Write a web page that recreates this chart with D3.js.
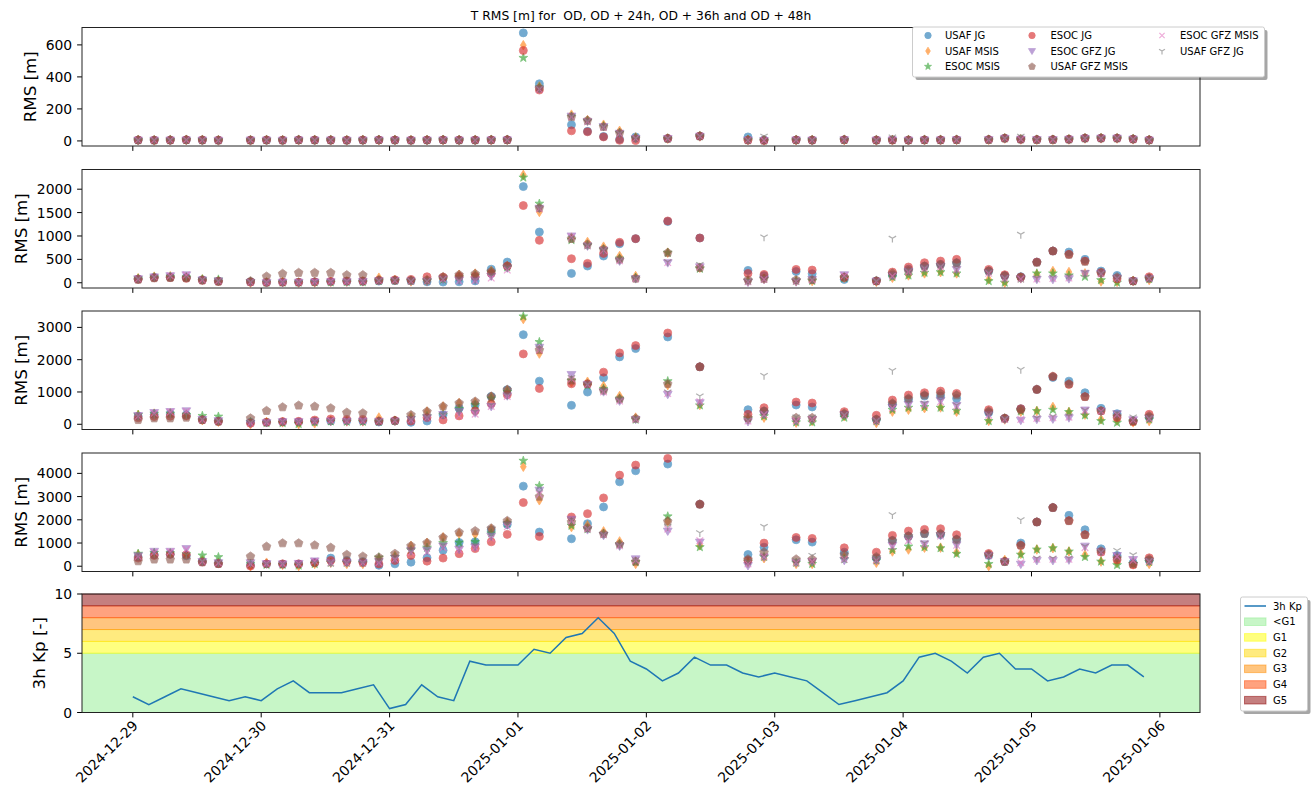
<!DOCTYPE html>
<html>
<head>
<meta charset="utf-8">
<script src="https://cdn.jsdelivr.net/npm/d3@7"></script>
<style>
  body { margin: 0; background: #fff; }
  svg { display: block; font-family: "DejaVu Sans", sans-serif; }
  .keep-space { white-space: pre; }
</style>
</head>
<body>
<svg id="chart" width="1314" height="802"></svg>
<script>
// ---------- sampling times ----------
const rmsTimes = [
  "2024-12-29T01:00","2024-12-29T04:00","2024-12-29T07:00","2024-12-29T10:00","2024-12-29T13:00","2024-12-29T16:00","2024-12-29T22:00",
  "2024-12-30T01:00","2024-12-30T04:00","2024-12-30T07:00","2024-12-30T10:00","2024-12-30T13:00","2024-12-30T16:00","2024-12-30T19:00","2024-12-30T22:00",
  "2024-12-31T01:00","2024-12-31T04:00","2024-12-31T07:00","2024-12-31T10:00","2024-12-31T13:00","2024-12-31T16:00","2024-12-31T19:00","2024-12-31T22:00",
  "2025-01-01T01:00","2025-01-01T04:00","2025-01-01T10:00","2025-01-01T13:00","2025-01-01T16:00","2025-01-01T19:00","2025-01-01T22:00",
  "2025-01-02T04:00","2025-01-02T10:00","2025-01-02T19:00","2025-01-02T22:00",
  "2025-01-03T04:00","2025-01-03T07:00","2025-01-03T13:00","2025-01-03T19:00","2025-01-03T22:00",
  "2025-01-04T01:00","2025-01-04T04:00","2025-01-04T07:00","2025-01-04T10:00","2025-01-04T16:00","2025-01-04T19:00","2025-01-04T22:00",
  "2025-01-05T01:00","2025-01-05T04:00","2025-01-05T07:00","2025-01-05T10:00","2025-01-05T13:00","2025-01-05T16:00","2025-01-05T19:00","2025-01-05T22:00"
];

const kpTimes = [
  "2024-12-29T00:00","2024-12-29T03:00","2024-12-29T06:00","2024-12-29T09:00","2024-12-29T12:00","2024-12-29T15:00","2024-12-29T18:00","2024-12-29T21:00",
  "2024-12-30T00:00","2024-12-30T03:00","2024-12-30T06:00","2024-12-30T09:00","2024-12-30T12:00","2024-12-30T15:00","2024-12-30T18:00","2024-12-30T21:00",
  "2024-12-31T00:00","2024-12-31T03:00","2024-12-31T06:00","2024-12-31T09:00","2024-12-31T12:00","2024-12-31T15:00","2024-12-31T18:00","2024-12-31T21:00",
  "2025-01-01T00:00","2025-01-01T03:00","2025-01-01T06:00","2025-01-01T09:00","2025-01-01T12:00","2025-01-01T15:00","2025-01-01T18:00","2025-01-01T21:00",
  "2025-01-02T00:00","2025-01-02T03:00","2025-01-02T06:00","2025-01-02T09:00","2025-01-02T12:00","2025-01-02T15:00","2025-01-02T18:00","2025-01-02T21:00",
  "2025-01-03T00:00","2025-01-03T03:00","2025-01-03T06:00","2025-01-03T09:00","2025-01-03T12:00","2025-01-03T15:00","2025-01-03T18:00","2025-01-03T21:00",
  "2025-01-04T00:00","2025-01-04T03:00","2025-01-04T06:00","2025-01-04T09:00","2025-01-04T12:00","2025-01-04T15:00","2025-01-04T18:00","2025-01-04T21:00",
  "2025-01-05T00:00","2025-01-05T03:00","2025-01-05T06:00","2025-01-05T09:00","2025-01-05T12:00","2025-01-05T15:00","2025-01-05T18:00","2025-01-05T21:00"
];

const kpValues = [
  1.33,0.67,1.33,2,1.67,1.33,1,1.33,
  1,2,2.67,1.67,1.67,1.67,2,2.33,
  0.33,0.67,2.33,1.33,1,4.33,4,4,
  4,5.33,5,6.33,6.67,8,6.67,4.33,
  3.67,2.67,3.33,4.67,4,4,3.33,3,
  3.33,3,2.67,1.67,0.67,1,1.33,1.67,
  2.67,4.67,5,4.33,3.33,4.67,5,3.67,
  3.67,2.67,3,3.67,3.33,4,4,3
];

const seriesNames = ["USAF JG","USAF MSIS","ESOC MSIS","ESOC JG","ESOC GFZ JG","USAF GFZ MSIS","ESOC GFZ MSIS","USAF GFZ JG"];

// ---------- OD ----------
const odUsafJG      = [5,4,5,6,5,4, 5,5,4,6,5,5,4,5,6,5,4,5,6,5,5,6,7, 675,357,101,60,28,10,25, 15,30,25,6, 6,5,7,5,6, 5,6,6,7,8,17,10, 8,8,10,17,17,17,12,6];
const odUsafMSIS    = [4,3,4,5,4,3, 3,4,3,5,4,4,3,4,5,4,3,4,5,4,4,5,6, 598,340,164,130,101,63,22, 14,28,6,3, 4,4,5,3,4, 4,5,5,6,7,15,9, 7,7,9,15,16,15,10,4];
const odEsocMSIS    = [5,4,5,6,5,4, 4,5,4,6,5,5,4,5,6,5,4,5,6,5,5,6,6, 519,335,153,125,92,50,18, 15,29,5,3, 5,5,6,4,5, 5,6,6,7,8,16,10, 8,8,10,16,17,16,11,5];
const odEsocJG      = [6,5,5,7,6,5, 5,6,5,6,6,5,5,6,6,6,5,6,6,6,6,6,7, 565,318,63,57,25,4,2, 15,30,5,3, 6,5,7,5,6, 5,6,6,7,8,16,10, 8,8,10,17,17,17,11,6];
const odEsocGfzJG   = [5,5,5,6,5,4, 5,5,4,6,5,5,4,5,6,5,4,5,6,5,5,6,6, null,325,155,122,90,48,15, 15,29,5,3, 6,5,7,5,6, 5,6,6,7,8,16,10, 8,8,10,16,17,17,11,5];
const odUsafGfzMSIS = [6,5,6,7,6,5, 5,6,5,7,6,6,5,6,7,6,5,6,7,6,6,7,7, null,328,150,128,88,50,17, 16,31,6,4, 6,6,8,6,6, 6,7,7,8,9,17,11, 9,9,11,18,18,18,12,6];
const odEsocGfzMSIS = [5,4,5,6,5,4, 5,5,4,6,5,5,4,5,6,5,4,5,6,5,5,6,6, null,322,150,120,85,45,15, 15,29,5,3, 6,5,7,5,6, 5,6,6,7,8,16,10, 8,8,10,16,17,17,11,5];
const odUsafGfzJG   = [5,5,5,6,5,4, 5,5,4,6,5,5,4,5,6,5,4,5,6,5,5,6,6, null,330,155,125,90,50,15, 15,30,6,30, 6,5,7,5,25, 5,6,6,7,8,16,30, 8,8,10,16,17,17,11,5];

// ---------- OD + 24h ----------
const d24UsafJG      = [80,115,120,110,65,35, 20,8,15,10,20,25,30,30,35,45,40,20,15,20,40,290,443, 2056,1085,200,357,571,835,943, 1310,957,264,150, 240,193,71,40,160, 290,357,393,428,250,150,130, 443,678,657,500,250,157,36,93];
const d24UsafMSIS    = [95,130,140,120,70,40, 3,10,20,3,5,20,25,30,107,55,30,45,110,170,195,250,357, 2306,1514,964,871,771,571,143, 643,321,36,86, 36,36,110,20,107, 157,200,228,200,71,3,100, 180,250,228,200,29,20,40,60];
const d24EsocMSIS    = [90,120,130,115,75,70, 25,5,5,5,10,10,15,15,40,50,45,40,70,120,150,220,330, 2250,1692,914,800,714,520,110, 643,300,40,86, 40,40,100,30,120, 157,214,228,200,36,3,90, 200,200,157,128,57,3,30,80];
const d24EsocJG      = [75,105,110,95,55,30, 15,8,10,12,20,30,35,35,50,64,71,128,120,135,135,200,357, 1650,907,514,414,628,864,943, 1321,957,200,178, 286,271,114,36,228, 336,428,464,500,286,171,121, 443,678,607,464,220,86,36,128];
const d24EsocGfzJG   = [85,125,150,170,60,40, 10,5,10,10,15,20,20,25,45,50,40,35,80,60,60,140,314, null,1592,1000,785,700,464,86, 428,340,10,70, 20,70,171,36,150, 240,320,350,286,214,100,86, 71,71,86,200,200,100,40,90];
const d24UsafGfzMSIS = [65,100,105,100,50,25, 35,135,193,214,214,214,164,164,60,50,50,60,125,170,190,243,357, null,1600,940,820,714,500,90, 640,321,60,90, 60,60,120,40,200, 250,350,380,420,250,150,120, 430,678,600,450,210,120,40,100];
const d24EsocGfzMSIS = [80,120,145,165,60,35, 10,10,15,10,20,25,25,30,40,45,30,30,70,35,43,100,271, null,1580,980,790,690,470,86, 430,340,20,70, 30,60,150,30,140, 230,300,340,280,200,90,80, 80,90,100,200,190,90,40,90];
const d24UsafGfzJG   = [85,120,130,120,65,40, 20,8,10,10,15,20,25,30,45,50,45,40,80,60,60,150,320, null,1600,960,800,700,480,100, 450,393,50,978, 60,80,110,40,950, 260,330,360,300,230,110,1035, 100,120,140,220,200,110,50,100];

// ---------- OD + 36h ----------
const d36UsafJG      = [250,300,320,290,140,100, 60,60,70,70,90,100,110,100,70,100,60,100,291,499,600,863,1071, 2775,1336,586,997,1439,2087,2344, 2704,1778,452,411, 596,535,300,150,617, 771,874,874,802,360,185,480, 1079,1450,1336,977,493,329,100,206];
const d36UsafMSIS    = [290,330,350,300,130,80, 5,70,60,5,30,110,90,90,208,110,250,395,551,655,680,850,1050, 3259,2190,1300,1316,1182,874,206, 1213,600,150,206, 50,100,250,40,391, 450,500,520,391,103,150,390, 411,535,380,300,154,120,60,100];
const d36EsocMSIS    = [290,330,330,290,260,239, 80,40,40,10,60,90,80,80,80,110,200,250,291,480,600,800,1000, 3341,2549,1357,1200,1100,800,144, 1336,586,180,250, 60,60,206,100,450, 514,535,514,420,103,180,400, 411,450,380,278,100,50,80,150];
const d36EsocJG      = [200,240,250,260,135,90, 31,62,83,90,130,166,150,150,90,114,100,208,135,260,416,634,915, 2179,1110,1254,1250,1614,2210,2436, 2827,1778,308,514, 689,658,391,278,750, 905,977,1028,956,452,185,483, 1079,1480,1234,853,411,206,82,308];
const d36EsocGfzJG   = [270,364,395,416,150,110, 30,50,80,80,90,100,90,100,90,100,150,200,300,400,350,550,880, null,2385,1542,1234,1007,720,150, 925,668,82,300, 100,150,300,100,520, 620,617,740,586,300,150,123, 154,164,200,442,411,329,140,180];
const d36UsafGfzMSIS = [135,187,187,208,135,83, 187,416,530,582,551,499,364,343,100,114,291,395,551,655,707,863,1071, null,2300,1357,1250,1050,780,180, 1250,1778,200,400, 200,200,330,150,650, 800,900,950,900,400,185,450, 1079,1480,1250,850,420,250,100,250];
const d36EsocGfzMSIS = [250,340,380,400,140,100, 40,60,80,80,90,110,100,100,90,110,140,200,250,260,312,551,863, null,2300,1400,1230,1000,720,150, 950,700,100,300, 100,150,280,100,500, 600,600,700,560,280,150,150, 180,200,220,420,400,300,130,170];
const d36UsafGfzJG   = [260,300,320,300,150,110, 60,60,80,80,90,100,110,110,90,110,150,220,300,400,400,600,900, null,2350,1450,1250,1050,760,180, 1000,874,150,1511, 230,226,300,120,1665, 650,650,750,600,300,180,1696, 200,250,260,442,380,350,226,200];

// ---------- OD + 48h ----------
const d48UsafJG      = [400,500,520,450,200,120, 50,100,90,90,150,350,250,200,40,102,175,365,686,1022,1051,1562,1800, 3449,1472,1183,1833,2554,3636,4113, 4401,2670,505,822, 1140,1039,606,346,1111, 1299,1400,1371,1154,462,202,1000, 1905,2525,2193,1573,750,462,150,250];
const d48UsafMSIS    = [500,550,560,500,250,150, 5,150,60,5,100,150,100,100,300,450,876,1007,1241,1400,1372,1600,1900, 4286,2843,1688,1760,1501,1068,101, 1934,900,150,346, 100,100,400,150,635, 720,800,800,600,5,270,535, 722,779,635,491,202,150,100,100];
const d48EsocMSIS    = [540,580,560,520,467,394, 100,60,60,30,100,150,150,150,380,400,700,800,1000,1022,1051,1416,1850, 4545,3463,1750,1600,1400,950,180, 2150,822,200,400, 150,100,300,250,700, 851,822,779,534,100,200,500, 722,779,635,400,202,50,100,180];
const d48EsocJG      = [350,467,511,496,180,110, 5,102,102,102,150,250,200,160,100,248,467,219,350,540,759,1051,1372, 2742,1284,2121,2265,2944,3925,4358, 4646,2670,245,996, 1241,1198,794,606,1328, 1515,1587,1616,1356,550,202,895, 1905,2525,1962,1356,606,274,58,361];
const d48EsocGfzJG   = [450,642,642,759,200,150, 150,110,100,120,230,150,150,150,200,350,686,686,876,730,832,1300,1781, null,3276,2020,1573,1328,866,317, 1515,1039,29,400, 150,200,250,250,900, 1150,967,1320,923,462,202,87, 245,245,270,866,650,462,289,200];
const d48UsafGfzMSIS = [219,292,292,292,175,102, 423,847,993,993,905,803,496,423,380,540,876,1007,1241,1460,1518,1635,1956, null,3000,1900,1650,1400,950,200, 1934,2670,300,600, 300,300,500,400,1100, 1300,1400,1400,1150,500,202,900, 1905,2525,1950,1350,650,350,100,300];
const d48EsocGfzMSIS = [420,600,620,720,200,140, 100,110,100,110,220,140,140,140,150,300,600,600,800,700,800,1200,1700, null,3100,1950,1600,1350,880,250, 1600,1100,100,400, 150,200,300,250,850, 1100,950,1300,900,450,200,150, 300,300,300,800,600,420,250,200];
const d48UsafGfzJG   = [450,550,560,500,220,160, 120,110,100,100,150,160,150,150,200,350,650,700,900,800,900,1300,1800, null,3200,2000,1620,1380,900,280, 1700,1443,200,1717, 250,462,400,300,2222, 1200,1000,1350,950,460,220,2006, 350,350,350,866,620,680,491,250];

const rmsTicks = [[0,200,400,600],[0,500,1000,1500,2000],[0,1000,2000,3000],[0,1000,2000,3000,4000]];
const kpTicks = [0,5,10];
const dateTicks = ["2024-12-29","2024-12-30","2024-12-31","2025-01-01","2025-01-02","2025-01-03","2025-01-04","2025-01-05","2025-01-06"];
const titleText = "T RMS [m] for  OD, OD + 24h, OD + 36h and OD + 48h";

// storm levels on the Kp panel: [low, high, label]
const stormBands = [[0,5,"<G1"],[5,6,"G1"],[6,7,"G2"],[7,8,"G3"],[8,9,"G4"],[9,10,"G5"]];

// ---------- styling ----------
const colors = ["#1f77b4","#ff7f0e","#2ca02c","#d62728","#9467bd","#8c564b","#e377c2","#7f7f7f"];
const shapes = ["circle","thinDiamond","star","circle","triDown","pentagon","x","tri"];
const bandColors = ["#90ee90","#ffff00","#ffd700","#ff8c00","#ff4500","#8b0000"];

const panels = [
  [odUsafJG,odUsafMSIS,odEsocMSIS,odEsocJG,odEsocGfzJG,odUsafGfzMSIS,odEsocGfzMSIS,odUsafGfzJG],
  [d24UsafJG,d24UsafMSIS,d24EsocMSIS,d24EsocJG,d24EsocGfzJG,d24UsafGfzMSIS,d24EsocGfzMSIS,d24UsafGfzJG],
  [d36UsafJG,d36UsafMSIS,d36EsocMSIS,d36EsocJG,d36EsocGfzJG,d36UsafGfzMSIS,d36EsocGfzMSIS,d36UsafGfzJG],
  [d48UsafJG,d48UsafMSIS,d48EsocMSIS,d48EsocJG,d48EsocGfzJG,d48UsafGfzMSIS,d48EsocGfzMSIS,d48UsafGfzJG]
];

function markerPath(kind, k = 1) {
  switch (kind) {
    case "circle": { const r = 4 * k; return `M${r},0A${r},${r} 0 1,1 ${-r},0A${r},${r} 0 1,1 ${r},0Z`; }
    case "thinDiamond": return `M0,${-4.8 * k}L${2.9 * k},0L0,${4.8 * k}L${-2.9 * k},0Z`;
    case "star": {
      const pts = [];
      for (let j = 0; j < 10; j++) {
        const a = -Math.PI / 2 + j * Math.PI / 5, r = (j % 2 ? 1.8 : 4.6) * k;
        pts.push([r * Math.cos(a), r * Math.sin(a)]);
      }
      return "M" + pts.map(p => p[0].toFixed(2) + "," + p[1].toFixed(2)).join("L") + "Z";
    }
    case "triDown": return `M0,${4.4 * k}L${-4.4 * k},${-3 * k}L${4.4 * k},${-3 * k}Z`;
    case "pentagon": {
      const pts = [];
      for (let j = 0; j < 5; j++) {
        const a = -Math.PI / 2 + j * 2 * Math.PI / 5;
        pts.push([4.5 * k * Math.cos(a), 4.5 * k * Math.sin(a)]);
      }
      return "M" + pts.map(p => p[0].toFixed(2) + "," + p[1].toFixed(2)).join("L") + "Z";
    }
    case "x": { const s = 3.3 * k; return `M${-s},${-s}L${s},${s}M${-s},${s}L${s},${-s}`; }
    case "tri": return `M0,0L0,${4.3 * k}M0,0L${-3.7 * k},${-2.2 * k}M0,0L${3.7 * k},${-2.2 * k}`;
  }
}
const strokeOnly = kind => kind === "x" || kind === "tri";

function drawMarker(sel, kind, color, opacity, k = 1) {
  return sel.append("path")
    .attr("d", markerPath(kind, k))
    .attr("fill", strokeOnly(kind) ? "none" : color)
    .attr("stroke", color)
    .attr("stroke-width", strokeOnly(kind) ? 1.2 : 0.8)
    .attr("opacity", opacity);
}

// ---------- layout ----------
const svg = d3.select("#chart");
const left = 82, right = 1200;
const panelTop = [27.5, 169.5, 311, 453, 594];
const panelH = 118.5;
const yTickFont = 13.9, xTickFont = 13.9, labelFont = 16.7;

const parse = d3.utcParse("%Y-%m-%dT%H:%M");
const tRms = rmsTimes.map(parse);
const tKp = kpTimes.map(parse);
const tAll = d3.extent(tRms.concat(tKp));
const span = tAll[1] - tAll[0];
const x = d3.scaleUtc()
  .domain([new Date(+tAll[0] - 0.05 * span), new Date(+tAll[1] + 0.05 * span)])
  .range([left, right]);
const dayTicks = dateTicks.map(d3.utcParse("%Y-%m-%d"));
const fmt = d3.utcFormat("%Y-%m-%d");

svg.append("text")
  .attr("class", "keep-space")
  .attr("x", (left + right) / 2).attr("y", 20)
  .attr("text-anchor", "middle")
  .attr("font-size", 12.3)
  .text(titleText);

function drawFrame(g, y, ticks, labelText, showDates) {
  // x ticks on the bottom spine
  g.selectAll(".xt").data(dayTicks).join("line")
    .attr("x1", d => x(d)).attr("x2", d => x(d))
    .attr("y1", panelH).attr("y2", panelH + 4.9)
    .attr("stroke", "#000").attr("stroke-width", 1);
  if (showDates) {
    g.selectAll(".xl").data(dayTicks).join("text")
      .attr("transform", d => `translate(${x(d) + 6},${panelH + 14}) rotate(-45)`)
      .attr("text-anchor", "end")
      .attr("font-size", xTickFont)
      .attr("fill", "#000")
      .text(d => fmt(d));
  }
  // y ticks
  g.selectAll(".yt").data(ticks).join("line")
    .attr("x1", left - 4.9).attr("x2", left)
    .attr("y1", d => y(d)).attr("y2", d => y(d))
    .attr("stroke", "#000").attr("stroke-width", 1);
  const labels = g.selectAll(".yl").data(ticks).join("text")
    .attr("x", left - 9.8).attr("y", d => y(d))
    .attr("dy", "0.36em")
    .attr("text-anchor", "end")
    .attr("font-size", yTickFont)
    .text(d => d);
  let maxW = 0;
  labels.each(function () { maxW = Math.max(maxW, this.getComputedTextLength()); });
  const lx = left - 9.8 - maxW - 5.6 - labelFont * 0.24;
  g.append("text")
    .attr("transform", `translate(${lx},${panelH / 2}) rotate(-90)`)
    .attr("text-anchor", "middle")
    .attr("font-size", labelFont)
    .text(labelText);
  g.append("rect")
    .attr("x", left).attr("y", 0).attr("width", right - left).attr("height", panelH)
    .attr("fill", "none").attr("stroke", "#222").attr("stroke-width", 1);
}

// ---------- RMS panels ----------
panels.forEach((series, p) => {
  const g = svg.append("g").attr("transform", `translate(0,${panelTop[p]})`);
  const vals = series.flat().filter(v => v != null);
  const ext = d3.extent(vals);
  const pad = 0.05 * (ext[1] - ext[0]);
  const y = d3.scaleLinear().domain([ext[0] - pad, ext[1] + pad]).range([panelH, 0]);

  series.forEach((arr, s) => {
    const sg = g.append("g");
    arr.forEach((v, i) => {
      if (v == null) return;
      drawMarker(sg, shapes[s], colors[s], 0.62)
        .attr("transform", `translate(${x(tRms[i])},${y(v)})`);
    });
  });
  drawFrame(g, y, rmsTicks[p], "RMS [m]", false);
});

// ---------- legend of the series ----------
{
  const lg = svg.append("g");
  const bx = 912.5, by = 27, bw = 352, bh = 50;
  lg.append("rect").attr("x", bx + 3).attr("y", by + 3).attr("width", bw).attr("height", bh)
    .attr("rx", 2).attr("fill", "#000").attr("opacity", 0.35);
  lg.append("rect").attr("x", bx).attr("y", by).attr("width", bw).attr("height", bh)
    .attr("rx", 2).attr("fill", "#fff").attr("stroke", "#ccc").attr("stroke-width", 1);
  const colX = [928, 1032, 1162], textX = [945, 1050.5, 1180];
  const rowY = [35.5, 51, 66.5];
  seriesNames.forEach((name, s) => {
    const c = Math.floor(s / 3), r = s % 3;
    drawMarker(lg, shapes[s], colors[s], 0.62, 0.8)
      .attr("transform", `translate(${colX[c]},${rowY[r]})`);
    lg.append("text").attr("x", textX[c]).attr("y", rowY[r]).attr("dy", "0.36em")
      .attr("font-size", 10).text(name);
  });
}

// ---------- Kp panel ----------
{
  const g = svg.append("g").attr("transform", `translate(0,${panelTop[4]})`);
  const y = d3.scaleLinear().domain([0, 10]).range([panelH, 0]);
  stormBands.forEach((b, k) => {
    g.append("rect")
      .attr("x", left).attr("width", right - left)
      .attr("y", y(b[1])).attr("height", y(b[0]) - y(b[1]))
      .attr("fill", bandColors[k]).attr("fill-opacity", 0.5);
    [b[0], b[1]].forEach(v => {
      g.append("line").attr("x1", left).attr("x2", right)
        .attr("y1", y(v)).attr("y2", y(v))
        .attr("stroke", bandColors[k]).attr("stroke-opacity", 0.5).attr("stroke-width", 1);
    });
  });
  const line = d3.line().x((d, i) => x(tKp[i])).y(d => y(d));
  g.append("path").datum(kpValues)
    .attr("d", line).attr("fill", "none")
    .attr("stroke", "#1f77b4").attr("stroke-width", 1.5);
  drawFrame(g, y, kpTicks, "3h Kp [-]", true);

  // legend of the storm levels
  const lg = svg.append("g");
  const bx = 1240.5, by = 597, bw = 67, bh = 114;
  lg.append("rect").attr("x", bx + 3).attr("y", by + 3).attr("width", bw).attr("height", bh)
    .attr("rx", 2).attr("fill", "#000").attr("opacity", 0.35);
  lg.append("rect").attr("x", bx).attr("y", by).attr("width", bw).attr("height", bh)
    .attr("rx", 2).attr("fill", "#fff").attr("stroke", "#ccc").attr("stroke-width", 1);
  const rowY = d3.range(7).map(k => 606 + k * 15.7);
  lg.append("line").attr("x1", 1244.5).attr("x2", 1266).attr("y1", rowY[0]).attr("y2", rowY[0])
    .attr("stroke", "#1f77b4").attr("stroke-width", 1.5);
  lg.append("text").attr("x", 1273).attr("y", rowY[0]).attr("dy", "0.36em").attr("font-size", 10).text("3h Kp");
  stormBands.forEach((b, k) => {
    lg.append("rect").attr("x", 1244.5).attr("y", rowY[k + 1] - 3.8).attr("width", 21.5).attr("height", 7.6)
      .attr("fill", bandColors[k]).attr("fill-opacity", 0.5)
      .attr("stroke", bandColors[k]).attr("stroke-opacity", 0.5);
    lg.append("text").attr("x", 1273).attr("y", rowY[k + 1]).attr("dy", "0.36em").attr("font-size", 10).text(b[2]);
  });
}
</script>
</body>
</html>
